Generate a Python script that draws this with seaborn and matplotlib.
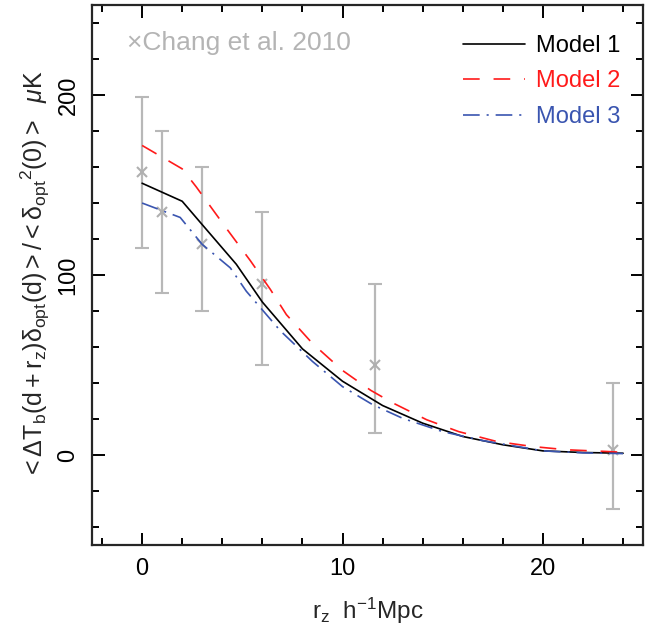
import numpy as np
import pandas as pd
import matplotlib
matplotlib.use("Agg")
import matplotlib.pyplot as plt
from matplotlib.ticker import MultipleLocator
import seaborn as sns

# Model curves
model1_x = [0, 2, 3, 4.7, 6, 8, 10, 12, 14, 16, 18, 20, 22, 24]
model1_y = [151, 141, 128, 106, 85, 59, 41, 27.5, 17.7, 10.3, 5.7, 2.3, 1.4, 1.0]

model2_x = [0, 2, 2.7, 4.2, 5.4, 6.4, 7.2, 8.5, 10, 11.4, 12.5, 14.2, 15.8, 17.7, 19.5, 21.2, 23.1, 24]
model2_y = [172, 159, 149, 126, 108, 92, 78, 62, 47, 36, 29, 19.6, 13, 7.5, 4.7, 2.9, 2.0, 1.5]

model3_x = [0, 1.9, 3, 4.4, 5.2, 6.9, 8.5, 10, 11.5, 13, 15, 17, 20, 22, 24]
model3_y = [140, 132, 117, 104, 91, 69, 52, 38, 28, 20.4, 13, 8, 2.3, 1.2, 0.8]

# Chang et al. 2010 measurements
obs_x = [0, 1, 3, 6, 11.6, 23.5]
obs_y = [157, 135, 117, 95, 50, 3]
obs_hi = [199, 180, 160, 135, 95, 40]
obs_lo = [115, 90, 80, 50, 12.5, -30]

model_names = ["Model 1", "Model 2", "Model 3"]
model_colors = ["#000000", "#ff1a1a", "#3a55b0"]

sns.set_style("ticks")
plt.rcParams["font.family"] = ["Liberation Sans", "DejaVu Sans"]
plt.rcParams["mathtext.fontset"] = "custom"
plt.rcParams["mathtext.rm"] = "Liberation Sans"
plt.rcParams["mathtext.it"] = "Liberation Sans:italic"
plt.rcParams["mathtext.default"] = "regular"
plt.rcParams["lines.scale_dashes"] = False

df = pd.concat([
    pd.DataFrame({"r": model1_x, "v": model1_y, "model": model_names[0]}),
    pd.DataFrame({"r": model2_x, "v": model2_y, "model": model_names[1]}),
    pd.DataFrame({"r": model3_x, "v": model3_y, "model": model_names[2]}),
])

fig = plt.figure(figsize=(6.6, 6.33), dpi=100)
ax = fig.add_axes([0.1394, 0.139, 0.835, 0.853])

# observations with error bars
obs_y_arr = np.array(obs_y)
yerr = [obs_y_arr - np.array(obs_lo), np.array(obs_hi) - obs_y_arr]
ax.errorbar(obs_x, obs_y, yerr=yerr, fmt="x", color="#b0b0b0", ecolor="#b8b8b8",
            elinewidth=1.6, capsize=4.8, capthick=1.4, markersize=6.5, mew=1.5, zorder=1)

sns.lineplot(data=df, x="r", y="v", hue="model", style="model",
             palette=dict(zip(model_names, model_colors)),
             dashes={"Model 1": "", "Model 2": (12, 10), "Model 3": (12, 5, 1.5, 5)},
             linewidth=1.2, sort=False, estimator=None, ax=ax, zorder=3)

ax.set_xlim(-2.5, 25)
ax.set_ylim(-50, 250)
ax.xaxis.set_major_locator(MultipleLocator(10))
ax.xaxis.set_minor_locator(MultipleLocator(2))
ax.yaxis.set_major_locator(MultipleLocator(100))
ax.yaxis.set_minor_locator(MultipleLocator(20))
ax.tick_params(which="both", direction="in", top=True, right=True, width=1.4,
               colors="black")
ax.tick_params(which="major", length=9, labelsize=17, pad=9)
ax.tick_params(which="minor", length=5)
for lbl in ax.get_yticklabels():
    lbl.set_rotation(90)
    lbl.set_va("center")
for sp in ax.spines.values():
    sp.set_linewidth(1.6)
    sp.set_visible(True)

ax.set_xlabel(r"$r_z\ \ h^{-1}Mpc$", fontsize=17.5, labelpad=12)
ax.set_ylabel(r"$<\Delta T_b(d+r_z)\delta_{opt}(d)>/<\delta_{opt}{}^{2}(0)>\ \ \mathit{\mu}K$",
              fontsize=18, labelpad=4)

leg = ax.legend(loc="upper right", bbox_to_anchor=(0.975, 0.962), frameon=False,
                fontsize=17, handlelength=2.6, labelspacing=0.57,
                handletextpad=0.45, borderaxespad=0.0, labelcolor="linecolor")

ax.text(0.063, 0.93, "\u00d7Chang et al. 2010", transform=ax.transAxes,
        fontsize=19, color="#b4b4b4", va="center", ha="left")

fig.savefig("out.png", dpi=100)
